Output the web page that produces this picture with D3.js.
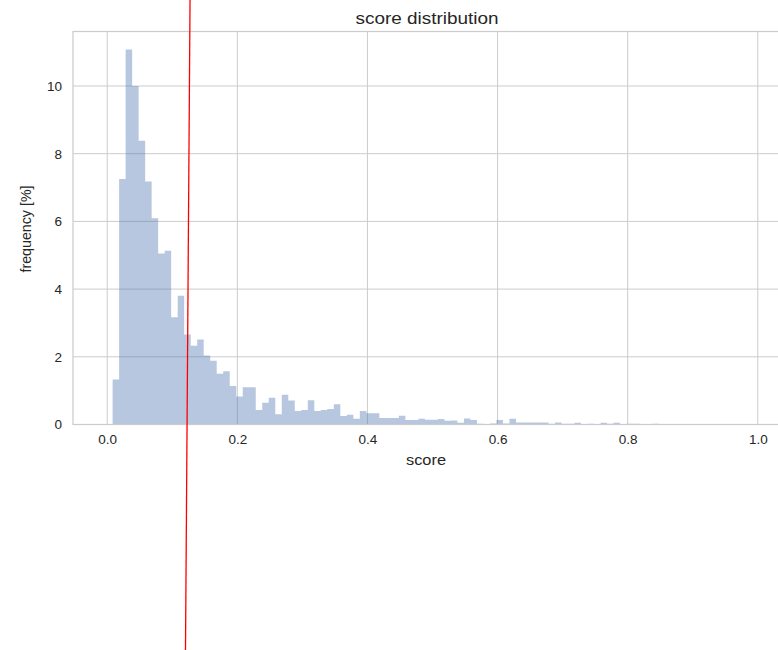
<!DOCTYPE html>
<html>
<head>
<meta charset="utf-8">
<script src="https://cdn.jsdelivr.net/npm/d3@7"></script>
<style>
  body { margin: 0; background: #fff; }
  text { font-family: "Liberation Sans", Arial, sans-serif; fill: #262626; }
</style>
</head>
<body>
<main></main>
<script>
const width = 778, height = 650;

// histogram: 0.01 wide bins starting at score 0.0083, values in percent
const binStart = 0.0083;
const binWidth = 0.01;
const freq = [
  1.33, 7.25, 11.08, 10.00, 8.38, 7.18, 6.09, 5.05, 5.13, 3.17,
  3.80, 2.66, 2.33, 2.51, 2.04, 1.88, 1.50, 1.57, 1.14, 0.83,
  1.10, 1.10, 0.43, 0.64, 0.79, 0.30, 0.88, 0.71, 0.40, 0.43,
  0.72, 0.40, 0.43, 0.46, 0.60, 0.25, 0.29, 0.17, 0.40, 0.33,
  0.33, 0.19, 0.19, 0.19, 0.26, 0.13, 0.13, 0.17, 0.14, 0.14,
  0.16, 0.11, 0.12, 0.05, 0.18, 0.13, 0.02, 0.00, 0.03, 0.13,
  0.03, 0.17, 0.06, 0.06, 0.06, 0.06, 0.06, 0.02, 0.06, 0.02,
  0.02, 0.05, 0.00, 0.02, 0.00, 0.05, 0.02, 0.05, 0.00, 0.02,
  0.02, 0.00, 0.00, 0.02
];
const xTicks = [0, 0.2, 0.4, 0.6, 0.8, 1.0];
const yTicks = [0, 2, 4, 6, 8, 10];

// red marker line drawn over the figure (score, frequency at its two ends)
const markerLine = [
  { score: 0.1273, freq: 12.56 },
  { score: 0.1203, freq: -6.69 }
];

const margin = { top: 31.5, left: 73, bottom: 424.5, right: 779 };

const x = d3.scaleLinear().domain([-0.0526, 1.0326]).range([margin.left, margin.right]);
const y = d3.scaleLinear().domain([0, 11.61]).range([margin.bottom, margin.top]);

const svg = d3.select("main").append("svg")
    .attr("width", width)
    .attr("height", height);

// grid
svg.append("g").selectAll("line")
    .data(xTicks)
    .enter().append("line")
    .attr("x1", d => x(d)).attr("x2", d => x(d))
    .attr("y1", margin.top).attr("y2", margin.bottom)
    .attr("stroke", "#cccccc").attr("stroke-width", 1);

svg.append("g").selectAll("line")
    .data(yTicks)
    .enter().append("line")
    .attr("x1", margin.left).attr("x2", margin.right)
    .attr("y1", d => y(d)).attr("y2", d => y(d))
    .attr("stroke", "#cccccc").attr("stroke-width", 1);

// bars as one stepped area so neighbouring bins have no seams
const steps = [];
freq.forEach((f, i) => {
  steps.push({ s: binStart + i * binWidth, f: f });
  steps.push({ s: binStart + (i + 1) * binWidth, f: f });
});

const area = d3.area()
    .x(d => x(d.s))
    .y0(y(0))
    .y1(d => y(d.f));

svg.append("path")
    .datum(steps)
    .attr("d", area)
    .attr("fill", "#4C72B0")
    .attr("fill-opacity", 0.4);

// spines
svg.append("rect")
    .attr("x", margin.left).attr("y", margin.top)
    .attr("width", margin.right - margin.left)
    .attr("height", margin.bottom - margin.top)
    .attr("fill", "none")
    .attr("stroke", "#cccccc")
    .attr("stroke-width", 1.25);

// axes
const xAxis = svg.append("g")
    .attr("transform", "translate(0," + margin.bottom + ")")
    .call(d3.axisBottom(x).tickValues(xTicks).tickSize(0).tickPadding(10)
        .tickFormat(d3.format(".1f")));
xAxis.select(".domain").remove();
xAxis.selectAll("text")
    .style("font-size", "13.5px")
    .style("font-family", "'Liberation Sans', Arial, sans-serif")
    .attr("fill", "#333333");

const yAxis = svg.append("g")
    .attr("transform", "translate(" + margin.left + ",0)")
    .call(d3.axisLeft(y).tickValues(yTicks).tickSize(0).tickPadding(11));
yAxis.select(".domain").remove();
yAxis.selectAll("text")
    .style("font-size", "13.5px")
    .style("font-family", "'Liberation Sans', Arial, sans-serif")
    .attr("fill", "#333333");

// labels
svg.append("text")
    .attr("x", 426).attr("y", 465)
    .attr("text-anchor", "middle")
    .attr("textLength", 40)
    .attr("lengthAdjust", "spacingAndGlyphs")
    .style("font-size", "14px")
    .text("score");

svg.append("text")
    .attr("transform", "translate(31,229) rotate(-90)")
    .attr("text-anchor", "middle")
    .attr("textLength", 87)
    .attr("lengthAdjust", "spacingAndGlyphs")
    .style("font-size", "14px")
    .text("frequency [%]");

svg.append("text")
    .attr("x", 427).attr("y", 23.5)
    .attr("text-anchor", "middle")
    .attr("textLength", 143)
    .attr("lengthAdjust", "spacingAndGlyphs")
    .style("font-size", "16px")
    .text("score distribution");

// red marker line
svg.append("line")
    .attr("x1", x(markerLine[0].score)).attr("y1", y(markerLine[0].freq))
    .attr("x2", x(markerLine[1].score)).attr("y2", y(markerLine[1].freq))
    .attr("stroke", "red")
    .attr("stroke-width", 1.3);
</script>
</body>
</html>
